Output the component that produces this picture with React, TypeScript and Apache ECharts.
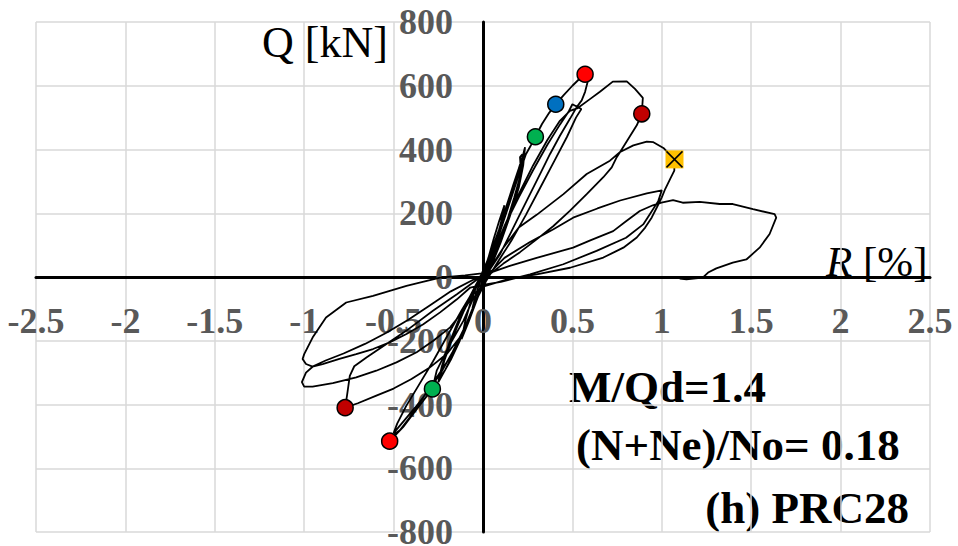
import React, { useEffect, useRef } from "react";
import * as echarts from "echarts";

// Hysteresis loops: [R (%), Q (kN)], in loading order
const cycle1: number[][] = [
  [0, 0], [0.02, 35], [0.04, 75], [0.06, 110], [0.045, 70], [0.02, 25], [0, -5],
  [-0.02, -40], [-0.04, -75], [-0.06, -100], [-0.045, -65], [-0.02, -20], [0, 10],
];
const cycle2: number[][] = [
  [0.03, 60], [0.06, 120], [0.09, 175], [0.12, 225], [0.1, 170], [0.07, 100], [0.035, 30],
  [0, -20], [-0.04, -80], [-0.08, -140], [-0.12, -195], [-0.1, -140], [-0.07, -80],
  [-0.03, -20], [0, 20],
];
const cycle3a: number[][] = [
  [0.04, 70], [0.09, 150], [0.13, 220], [0.17, 290], [0.2, 340], [0.225, 385], [0.235, 407],
  [0.225, 350], [0.2, 280], [0.15, 190], [0.1, 110], [0.05, 40], [0.01, -10],
  [-0.03, -60], [-0.08, -130], [-0.13, -200], [-0.18, -260], [-0.22, -300], [-0.25, -330],
  [-0.23, -280], [-0.19, -210], [-0.14, -140], [-0.09, -80], [-0.04, -25], [0, 15],
];
const cycle3b: number[][] = [
  [0.05, 80], [0.1, 160], [0.15, 240], [0.19, 310], [0.21, 350], [0.207, 376], [0.22, 385],
  [0.215, 330], [0.175, 250], [0.12, 150], [0.06, 60], [0.02, 5], [-0.02, -45],
  [-0.07, -115], [-0.12, -185], [-0.17, -245], [-0.21, -290], [-0.24, -315],
  [-0.215, -260], [-0.17, -190], [-0.11, -110], [-0.05, -40], [0, 10],
];
const cycle4: number[][] = [
  [0.05, 70], [0.1, 150], [0.15, 235], [0.2, 320], [0.24, 385], [0.265, 410], [0.293, 440],
  [0.33, 480], [0.37, 515], [0.407, 542], [0.45, 570], [0.5, 600], [0.54, 622], [0.571, 636],
  [0.59, 623], [0.571, 581], [0.552, 554], [0.524, 533], [0.487, 497], [0.431, 444],
  [0.375, 386], [0.319, 323], [0.263, 260], [0.207, 197], [0.151, 134], [0.095, 71],
  [0.04, 25], [0, -30], [-0.053, -65], [-0.109, -137], [-0.184, -210], [-0.259, -294],
  [-0.283, -351], [-0.334, -388], [-0.39, -429], [-0.447, -471], [-0.522, -515],
  [-0.5, -495], [-0.465, -481], [-0.409, -440], [-0.334, -377], [-0.259, -315],
  [-0.184, -252], [-0.109, -169], [-0.053, -96], [-0.015, -33], [0.03, 30],
];
const cycle4b: number[][] = [
  [0.06, 80], [0.12, 160], [0.2, 250], [0.28, 335], [0.36, 415], [0.43, 478], [0.48, 520],
  [0.5, 542], [0.55, 527], [0.52, 500], [0.47, 440], [0.4, 365], [0.32, 280], [0.24, 195],
  [0.16, 115], [0.08, 45], [0.02, -10], [-0.04, -75], [-0.1, -155], [-0.17, -235],
  [-0.24, -305], [-0.31, -360], [-0.38, -410], [-0.44, -450], [-0.5, -490],
  [-0.48, -460], [-0.43, -405], [-0.36, -340], [-0.28, -265], [-0.2, -185],
  [-0.12, -105], [-0.05, -40], [0, 5],
];
const cycle5: number[][] = [
  [0.05, 60], [0.12, 160], [0.2, 260], [0.28, 350], [0.36, 430], [0.43, 490], [0.486, 521],
  [0.53, 530], [0.598, 558], [0.654, 581], [0.726, 613], [0.804, 614], [0.85, 590],
  [0.894, 562], [0.888, 512], [0.86, 476], [0.813, 434], [0.767, 392], [0.748, 376],
  [0.72, 344], [0.673, 313], [0.58, 260], [0.487, 208], [0.394, 160], [0.3, 118],
  [0.207, 78], [0.114, 42], [0.03, 5], [-0.03, -60], [-0.08, -130], [-0.13, -190],
  [-0.2, -240], [-0.3, -285], [-0.4, -320], [-0.5, -350], [-0.6, -373], [-0.7, -396],
  [-0.771, -410], [-0.76, -370], [-0.745, -310], [-0.72, -280], [-0.65, -252],
  [-0.54, -210], [-0.43, -169], [-0.28, -106], [-0.146, -54], [-0.05, -15], [0.03, 20],
];
const cycle6: number[][] = [
  [0.06, 45], [0.114, 92], [0.2, 155], [0.3, 195], [0.45, 260], [0.58, 323], [0.71, 365],
  [0.767, 392], [0.841, 413], [0.916, 425], [0.953, 423], [1.009, 405], [1.071, 369],
  [1.07, 334], [1.047, 308], [1.019, 276], [1.0, 250], [0.972, 218], [0.944, 187],
  [0.907, 155], [0.86, 124], [0.785, 92], [0.673, 61], [0.487, 29], [0.3, 8], [0.15, -5],
  [0, -30], [-0.053, -54], [-0.109, -106], [-0.184, -158], [-0.278, -200], [-0.371, -236],
  [-0.484, -268], [-0.597, -294], [-0.709, -315], [-0.84, -333], [-0.953, -344],
  [-1.0, -344], [-1.013, -330], [-0.99, -300], [-0.95, -280], [-0.88, -262], [-0.78, -240],
  [-0.66, -210], [-0.54, -175], [-0.42, -135], [-0.3, -90], [-0.18, -45], [-0.06, -10],
  [0.05, 20],
];
const cycle7: number[][] = [
  [0.12, 60], [0.263, 110], [0.394, 150], [0.504, 186], [0.64, 215], [0.767, 240],
  [0.916, 262], [1.0, 272], [0.98, 238], [0.933, 197], [0.896, 165], [0.8, 123],
  [0.635, 82], [0.449, 40], [0.263, 8], [0.1, -15], [0, -25], [-0.071, -33], [-0.146, -70],
  [-0.24, -111], [-0.334, -148], [-0.428, -179], [-0.522, -205], [-0.615, -226],
  [-0.709, -242], [-0.803, -257], [-0.897, -273], [-0.953, -281], [-0.99, -273],
  [-1.009, -257], [-1.0, -242], [-0.953, -190], [-0.878, -127], [-0.765, -80],
  [-0.615, -59], [-0.428, -28], [-0.24, -2], [-0.1, 5], [0.05, 15],
];
const cycle8: number[][] = [
  [0.15, 35], [0.3, 60], [0.504, 92], [0.6, 115], [0.728, 144], [0.8, 175], [0.877, 207],
  [0.95, 225], [0.998, 233], [1.063, 241], [1.117, 233], [1.212, 236], [1.324, 229],
  [1.397, 229], [1.51, 213], [1.631, 197], [1.64, 186], [1.603, 135], [1.547, 92],
  [1.473, 55], [1.397, 45], [1.305, 27], [1.259, 14], [1.229, -2], [1.138, -7], [1.1, -5],
];

// Event markers
const redPoints: number[][] = [[0.571, 636], [-0.522, -515]];
const darkRedPoints: number[][] = [[0.888, 512], [-0.771, -410]];
const bluePoints: number[][] = [[0.407, 542]];
const greenPoints: number[][] = [[0.293, 440], [-0.283, -351]];
const yellowPoints: number[][] = [[1.071, 369]];

const X_MIN = -2.5, X_MAX = 2.5, X_STEP = 0.5;
const Y_MIN = -800, Y_MAX = 800, Y_STEP = 200;

const loopData = [
  ...cycle1, ...cycle2, ...cycle3a, ...cycle3b, ...cycle4, ...cycle4b,
  ...cycle5, ...cycle6, ...cycle7, ...cycle8,
];

const SERIF = "'Liberation Serif', 'Times New Roman', serif";

const W = 958, H = 546;
const G_LEFT = 36, G_RIGHT = 28, G_TOP = 22, G_BOTTOM = 14;
const plotW = W - G_LEFT - G_RIGHT;
const plotH = H - G_TOP - G_BOTTOM;
// shift axes so that they cross at (0, 0)
const yAxisOffset = -plotW * ((0 - X_MIN) / (X_MAX - X_MIN));
const xAxisOffset = -plotH * ((0 - Y_MIN) / (Y_MAX - Y_MIN));

export default function App() {
  const ref = useRef<HTMLDivElement>(null);
  useEffect(() => {
    if (!ref.current) return;
    const chart = echarts.init(ref.current, undefined, { renderer: "svg" });
    const circle = (data: number[][], color: string) => ({
      type: "scatter",
      data,
      symbol: "circle",
      symbolSize: 16,
      z: 4,
      itemStyle: { color, borderColor: "#000", borderWidth: 1.5, opacity: 1 },
    });
    chart.setOption({
      animation: false,
      backgroundColor: "#fff",
      grid: { left: G_LEFT, right: G_RIGHT, top: G_TOP, bottom: G_BOTTOM, containLabel: false, outerBoundsMode: "none" },
      xAxis: {
        type: "value",
        position: "bottom",
        offset: xAxisOffset,
        min: X_MIN,
        max: X_MAX,
        interval: X_STEP,
        axisLine: { onZero: false, lineStyle: { color: "#000", width: 3 } },
        axisTick: { show: false },
        axisLabel: {
          fontFamily: SERIF,
          fontWeight: "bold",
          fontSize: 36,
          color: "#595959",
          margin: 44,
          verticalAlign: "middle",
        },
        splitLine: { show: true, lineStyle: { color: "#d9d9d9", width: 1.5 } },
      },
      yAxis: {
        type: "value",
        position: "left",
        offset: yAxisOffset,
        min: Y_MIN,
        max: Y_MAX,
        interval: Y_STEP,
        axisLine: { onZero: false, lineStyle: { color: "#000", width: 3 } },
        axisTick: { show: false },
        axisLabel: {
          fontFamily: SERIF,
          fontWeight: "bold",
          fontSize: 36,
          color: "#595959",
          margin: 30,
        },
        splitLine: { show: true, lineStyle: { color: "#d9d9d9", width: 1.5 } },
      },
      series: [
        {
          type: "line",
          data: loopData,
          showSymbol: false,
          symbol: "none",
          z: 3,
          lineStyle: { color: "#000", width: 1.8 },
        },
        circle(greenPoints, "#00B050"),
        circle(bluePoints, "#0070C0"),
        circle(redPoints, "#FF0000"),
        circle(darkRedPoints, "#C00000"),
        {
          type: "scatter",
          data: yellowPoints,
          symbol: "rect",
          symbolSize: 18,
          z: 4,
          itemStyle: { color: "#FFC000", opacity: 1 },
        },
        {
          type: "scatter",
          data: yellowPoints,
          symbol: "path://M0 0L10 10M10 0L0 10",
          symbolSize: 16,
          z: 5,
          itemStyle: { color: "rgba(0,0,0,0)", borderColor: "#000", borderWidth: 1.5, opacity: 1 },
        },
      ],
      graphic: [
        {
          type: "text",
          left: 262,
          top: 20,
          style: { text: "Q [kN]", font: `44px ${SERIF}`, fill: "#000" },
        },
        {
          type: "text",
          x: 826,
          y: 261,
          style: {
            text: "{i|R}{n|\u00a0[%]}",
            verticalAlign: "middle",
            rich: {
              i: { fontFamily: SERIF, fontStyle: "italic", fontSize: 43, fill: "#000", color: "#000" },
              n: { fontFamily: SERIF, fontSize: 43, fill: "#000", color: "#000" },
            },
          },
        },
        {
          type: "text",
          x: 569,
          y: 387,
          style: { text: "M/Qd=1.4", font: `bold 45px ${SERIF}`, fill: "#000", verticalAlign: "middle" },
        },
        {
          type: "text",
          x: 576,
          y: 445,
          style: { text: "(N+Ne)/No= 0.18", font: `bold 45px ${SERIF}`, fill: "#000", verticalAlign: "middle" },
        },
        {
          type: "text",
          x: 909,
          y: 508,
          style: { text: "(h) PRC28", font: `bold 45px ${SERIF}`, fill: "#000", align: "right", verticalAlign: "middle" },
        },
      ],
    });
    return () => chart.dispose();
  }, []);
  return (
    <div
      ref={ref}
      style={{ position: "absolute", left: 0, top: 0, width: W, height: H }}
    />
  );
}
